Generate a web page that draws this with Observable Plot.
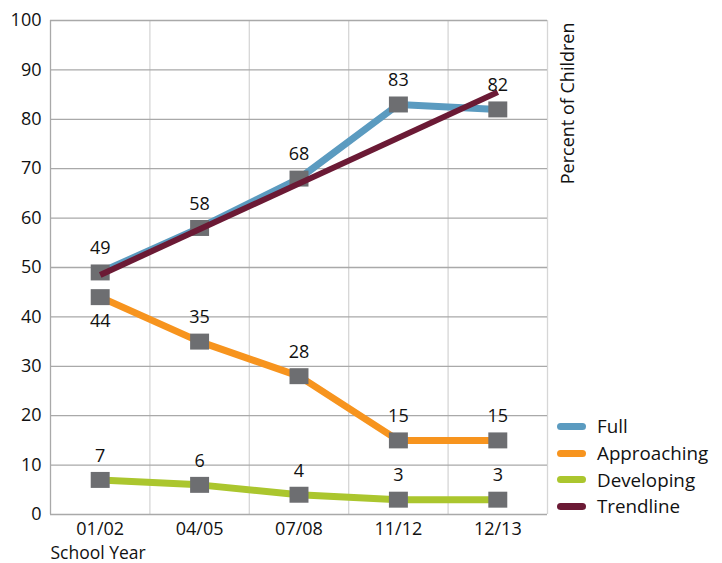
<!DOCTYPE html>
<html><head><meta charset="utf-8">
<script src="https://cdn.jsdelivr.net/npm/d3@7"></script>
<script src="https://cdn.jsdelivr.net/npm/@observablehq/plot@0.6"></script>
<style>
body{margin:0;background:#fff;font-family:"Open Sans",sans-serif;}
#wrap{position:relative;width:722px;height:563px;}
#legend{position:absolute;left:557px;top:413px;font-size:18.8px;color:#111;}
.item{display:flex;align-items:center;height:26.7px;}
.sw{width:29px;height:7px;border-radius:4px;margin-right:11px;}
</style></head>
<body><div id="wrap"><div id="chart"></div><div id="legend"></div></div>
<script>
const years = ["01/02","04/05","07/08","11/12","12/13"];
const full = [49,58,68,83,82];
const approaching = [44,35,28,15,15];
const developing = [7,6,4,3,3];
const trendYears = ["01/02","12/13"];
const trendValues = [48.5,85.5];
const seriesNames = ["Full","Approaching","Developing","Trendline"];
const seriesColors = ["#5b9bc0","#f7941e","#abc62e","#6b1a35"];
const yTicks = [0,10,20,30,40,50,60,70,80,90,100];
const labelsBelow = [["Approaching","01/02"]];

const idx = y => years.indexOf(y);
const rows = [];
[["Full",full],["Approaching",approaching],["Developing",developing]].forEach(([s,vals]) => {
  vals.forEach((v,i) => rows.push({series:s, i, year:years[i], v}));
});
const trend = trendYears.map((y,k) => ({series:"Trendline", i:idx(y), v:trendValues[k]}));
const isBelow = d => labelsBelow.some(([s,y]) => s===d.series && y===d.year);
const bounds = d3.range(years.length+1).map(k => k-0.5);

const rectSymbol = {draw(ctx,size){const w=Math.sqrt(size)*1.07,h=w*16/19;ctx.rect(-w/2,-h/2,w,h);}};

const chart = Plot.plot({
  width:722, height:563,
  marginLeft:50, marginRight:175, marginTop:20, marginBottom:49,
  style:{fontSize:"18px", fontFamily:"Open Sans, sans-serif", color:"#111", background:"#fff"},
  x:{type:"linear", domain:[-0.5, years.length-0.5]},
  y:{domain:[0,100]},
  color:{domain:seriesNames, range:seriesColors},
  marks:[
    Plot.ruleX(bounds.slice(1), {stroke:"#d6d6d6", strokeWidth:1.3}),
    Plot.ruleY(yTicks, {stroke:"#a9a9a9", strokeWidth:1.3}),
    Plot.ruleX([bounds[0]], {stroke:"#a9a9a9", strokeWidth:1.3}),
    Plot.axisY(yTicks, {tickSize:0, tickPadding:9, label:null, fill:"#111"}),
    Plot.axisX(d3.range(years.length), {tickSize:0, tickPadding:8, tickFormat:i=>years[i], label:null, fill:"#111"}),
    Plot.line(rows, {x:"i", y:"v", z:"series", stroke:"series", strokeWidth:7, strokeLinejoin:"miter", strokeLinecap:"butt"}),
    Plot.dot(rows, {x:"i", y:"v", r:10, symbol:rectSymbol, fill:"#6d6e71", stroke:"none"}),
    Plot.line(trend, {x:"i", y:"v", stroke:"series", strokeWidth:6, strokeLinecap:"butt"}),
    Plot.text(rows.filter(d=>!isBelow(d)), {x:"i", y:"v", text:d=>String(d.v), dy:-24, fill:"#111"}),
    Plot.text(rows.filter(isBelow), {x:"i", y:"v", text:d=>String(d.v), dy:24, fill:"#111"}),
    Plot.text(["Percent of Children"], {frameAnchor:"top-right", rotate:-90, textAnchor:"end", lineAnchor:"middle", dx:21, dy:2, fill:"#111"}),
    Plot.text(["School Year"], {frameAnchor:"bottom-left", textAnchor:"start", lineAnchor:"middle", dy:39, fontSize:17.5, fill:"#111"})
  ]
});
document.getElementById("chart").appendChild(chart);

const legend = document.getElementById("legend");
seriesNames.forEach((s,k) => {
  const it = document.createElement("div"); it.className="item";
  const sw = document.createElement("div"); sw.className="sw"; sw.style.background=seriesColors[k];
  const t = document.createElement("span"); t.textContent=s;
  it.appendChild(sw); it.appendChild(t); legend.appendChild(it);
});
</script>
</body></html>
